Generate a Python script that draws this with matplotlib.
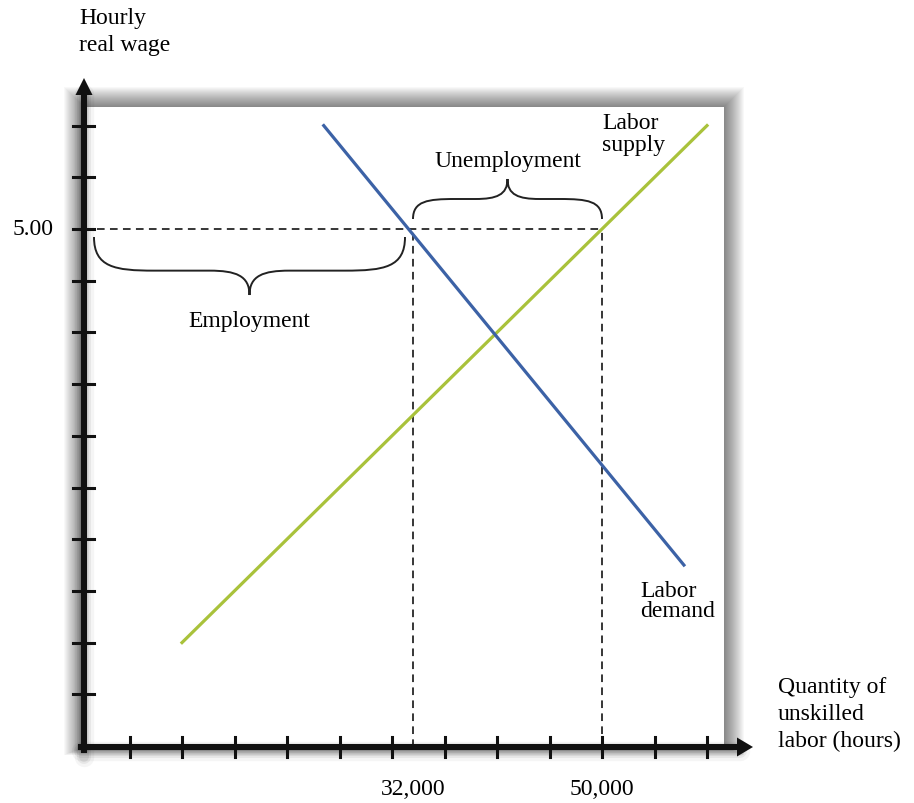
import numpy as np
import matplotlib.pyplot as plt
from matplotlib.patches import Rectangle, Polygon, PathPatch
from matplotlib.path import Path

# chart values: hours of unskilled labor and hourly real wage
supply_hours = [10000, 60000]
supply_wage = [1.0, 6.0]
demand_hours = [23500, 57800]
demand_wage = [6.0, 1.75]
min_wage = 5.00
employment = 32000
labor_supplied = 50000
x_ticks = [5000, 10000, 15000, 20000, 25000, 30000, 35000, 40000, 45000, 50000, 55000, 60000]
y_ticks = [0.5, 1.0, 1.5, 2.0, 2.5, 3.0, 3.5, 4.0, 4.5, 5.0, 5.5, 6.0]

blue = '#3c62a6'
green = '#a9c23b'
font = 'Liberation Serif'

# pixel scale of the drawing (hours / wage per pixel)
HPX = 5000 / 52.5
WPX = 0.5 / 51.7


def px(x, y=747):
    return (x - 77) * HPX, (747 - y) * WPX


fig = plt.figure(figsize=(9.14, 8.04), dpi=100)
ax = fig.add_axes([0, 0, 1, 1])
ax.set_xlim(px(0)[0], px(914)[0])
ax.set_ylim(px(0, 804)[1], px(0, 0)[1])
ax.axis('off')

# white panel with soft shadow
bx0, by0 = px(84, 748)
bx1, by1 = px(724, 108)
for k in range(20, 0, -1):
    ax.add_patch(Rectangle((bx0 - k * HPX, by0 - 0.4 * k * WPX), bx1 - bx0 + 2 * k * HPX,
                           by1 - by0 + 1.4 * k * WPX, facecolor='black', alpha=0.026,
                           edgecolor='none', zorder=0))
ax.add_patch(Rectangle((bx0, by0), bx1 - bx0, by1 - by0, facecolor='white',
                       edgecolor='none', zorder=1))

# axes with arrows
axis_x = px(84)[0]
axis_y = px(0, 748)[1]
for lw, a in [(14, 0.04), (10, 0.06), (7, 0.07)]:
    ax.plot([axis_x, axis_x], [px(0, 758)[1], px(0, 95)[1]], color='black', lw=lw, alpha=a, zorder=2,
            solid_capstyle='round')
    ax.plot([px(81)[0], px(740)[0]], [px(0, 752)[1]] * 2, color='black', lw=lw, alpha=a, zorder=2,
            solid_capstyle='round')
ax.plot([axis_x, axis_x], [px(0, 751)[1], px(0, 94)[1]], color='#111111', lw=4.4, zorder=5)
ax.plot([px(81)[0], px(740)[0]], [axis_y, axis_y], color='#111111', lw=4.4, zorder=5)
ax.add_patch(Polygon([px(84, 79), px(75.5, 96), px(92.5, 96)], closed=True,
                     facecolor='#111111', edgecolor='none', zorder=5))
ax.add_patch(Polygon([px(753, 748), px(737, 738.5), px(737, 757.5)], closed=True,
                     facecolor='#111111', edgecolor='none', zorder=5))

for w in y_ticks:
    ax.plot([px(73)[0], px(94)[0]], [w, w], color='#111111', lw=2.2, zorder=5)
for h in x_ticks:
    ax.plot([h, h], [px(0, 738)[1], px(0, 758)[1]], color='#111111', lw=2.2, zorder=5)

# dashed guide lines
dash = dict(color='black', lw=1.1, dashes=(5, 3.5), zorder=3)
ax.plot([axis_x, labor_supplied], [min_wage, min_wage], **dash)
ax.plot([employment, employment], [axis_y, min_wage], **dash)
ax.plot([labor_supplied, labor_supplied], [axis_y, min_wage], **dash)

# supply and demand
ax.plot(supply_hours, supply_wage, color=green, lw=2.3, zorder=4)
ax.plot(demand_hours, demand_wage, color=blue, lw=2.3, zorder=4)


def brace(xa, xb, y_end, y_tip, r1, r2, frac=0.5):
    ym = y_end + frac * (y_tip - y_end)
    xm = (xa + xb) / 2
    verts = [(xa, y_end), (xa, y_end + 0.9 * (ym - y_end)), (xa + 0.35 * r1, ym), (xa + r1, ym),
             (xm - r2, ym),
             (xm - 0.35 * r2, ym), (xm, ym + 0.2 * (y_tip - ym)), (xm, y_tip),
             (xm, ym + 0.2 * (y_tip - ym)), (xm + 0.35 * r2, ym), (xm + r2, ym),
             (xb - r1, ym),
             (xb - 0.35 * r1, ym), (xb, y_end + 0.9 * (ym - y_end)), (xb, y_end)]
    codes = [Path.MOVETO, Path.CURVE4, Path.CURVE4, Path.CURVE4, Path.LINETO,
             Path.CURVE4, Path.CURVE4, Path.CURVE4,
             Path.CURVE4, Path.CURVE4, Path.CURVE4, Path.LINETO,
             Path.CURVE4, Path.CURVE4, Path.CURVE4]
    ax.add_patch(PathPatch(Path(verts, codes), facecolor='none', edgecolor='#222222',
                           lw=1.4, zorder=4))


brace(employment, labor_supplied, px(0, 220)[1], px(0, 180)[1], 42 * HPX, 32 * HPX)
brace(px(94)[0], px(405)[0], px(0, 238)[1], px(0, 296)[1], 60 * HPX, 40 * HPX, frac=0.58)

# labels
fs = 17
ax.text(*px(79, 8), 'Hourly\nreal wage', ha='left', va='top', fontsize=fs, family=font,
        linespacing=1.38)
ax.text(px(54)[0], min_wage, f'{min_wage:.2f}', ha='right', va='center', fontsize=fs, family=font)
ax.text(employment, px(0, 790)[1], f'{employment:,}', ha='center', va='center', fontsize=fs, family=font)
ax.text(labor_supplied, px(0, 790)[1], f'{labor_supplied:,}', ha='center', va='center',
        fontsize=fs, family=font)
ax.text(*px(778, 677), 'Quantity of\nunskilled\nlabor (hours)', ha='left', va='top', fontsize=fs,
        family=font, linespacing=1.38)
ax.text(*px(602, 113), 'Labor\nsupply', ha='left', va='top', fontsize=fs, family=font,
        linespacing=1.05, zorder=6)
ax.text(*px(640, 581), 'Labor\ndemand', ha='left', va='top', fontsize=fs, family=font,
        linespacing=0.95, zorder=6)
ax.text(*px(508, 161), 'Unemployment', ha='center', va='center', fontsize=fs, family=font, zorder=6)
ax.text(*px(249, 321), 'Employment', ha='center', va='center', fontsize=fs, family=font, zorder=6)

fig.savefig('out.png', dpi=100)
